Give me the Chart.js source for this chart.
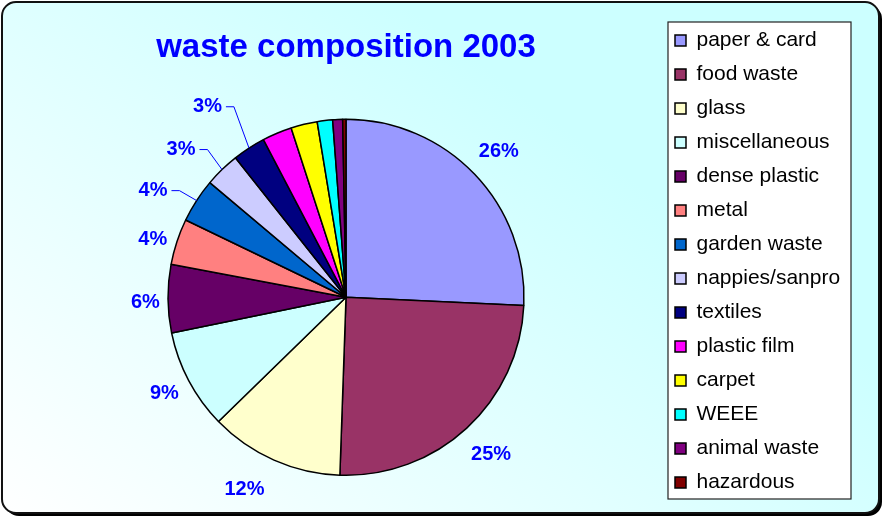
<!DOCTYPE html>
<html>
<head>
<meta charset="utf-8">
<script src="https://cdn.jsdelivr.net/npm/chart.js@4"></script>
<style>
  html, body { margin: 0; padding: 0; background: #fff; }
  #wrap { width: 884px; height: 518px; }
</style>
</head>
<body>
<div id="wrap"><canvas id="pie-chart" width="884" height="518"></canvas></div>
<script>
// data
const categories = [
  "paper & card", "food waste", "glass", "miscellaneous", "dense plastic",
  "metal", "garden waste", "nappies/sanpro", "textiles", "plastic film",
  "carpet", "WEEE", "animal waste", "hazardous"
];
const shares = [25.8, 24.9, 12.2, 9.1, 6.2, 4.2, 4.0, 3.2, 3.0, 2.7, 2.4, 1.4, 0.9, 0.3];
const sliceColors = [
  "#9999FF", "#993366", "#FFFFCC", "#CCFFFF", "#660066", "#FF8080", "#0066CC",
  "#CCCCFF", "#000080", "#FF00FF", "#FFFF00", "#00FFFF", "#800080", "#800000"
];

// label tweaks (extra distance px / angle nudge deg), only for labelled slices
const labelPush = [0, 3, 9, -2, -4, -5, 13, 14, 29];
const labelNudge = [0, 0, 4, 0, -1, -1.5, -4, -4, -3];

const FONT = "'Liberation Sans', Arial, sans-serif";
const BLUE = "#0000FF";

// frame + legend box behind everything
const framePlugin = {
  id: "frame",
  beforeDraw(chart) {
    const ctx = chart.ctx;
    ctx.save();
    // shadow
    ctx.fillStyle = "#000";
    ctx.beginPath();
    ctx.roundRect(5, 5, 877, 511, 14);
    ctx.fill();
    // panel
    const g = ctx.createLinearGradient(0, 518, 400, 0);
    g.addColorStop(0, "#ffffff");
    g.addColorStop(1, "#ccffff");
    ctx.fillStyle = g;
    ctx.strokeStyle = "#111";
    ctx.lineWidth = 2;
    ctx.beginPath();
    ctx.roundRect(2, 2, 877, 511, 14);
    ctx.fill();
    ctx.stroke();

    // legend box
    const lg = chart.legend;
    const colH = lg.columnSizes[0].height;
    const top = lg.bottom - colH - 8;
    const bottom = lg.bottom - 7;
    ctx.fillStyle = "#fff";
    ctx.strokeStyle = "#222";
    ctx.lineWidth = 1.2;
    ctx.fillRect(lg.left + 6, top, 183, bottom - top);
    ctx.strokeRect(lg.left + 6, top, 183, bottom - top);
    ctx.restore();
  },
};

// percent labels outside the pie
const pctPlugin = {
  id: "pct",
  afterDatasetsDraw(chart) {
    const ctx = chart.ctx;
    const meta = chart.getDatasetMeta(0);
    const total = shares.reduce((a, b) => a + b, 0);
    ctx.save();
    ctx.font = "bold 20px " + FONT;
    ctx.fillStyle = BLUE;
    ctx.strokeStyle = BLUE;
    ctx.lineWidth = 1;
    ctx.textAlign = "center";
    ctx.textBaseline = "middle";
    meta.data.forEach((arc, i) => {
      if (shares[i] < 3) return;
      const txt = Math.round((shares[i] / total) * 100) + "%";
      const mid = (arc.startAngle + arc.endAngle) / 2;
      const a = mid + (labelNudge[i] * Math.PI) / 180;
      const dx = Math.cos(a), dy = Math.sin(a);
      const w = ctx.measureText(txt).width, h = 20;
      const half = (Math.abs(dx) * w) / 2 + (Math.abs(dy) * h) / 2;
      const d = arc.outerRadius + 12 + half + labelPush[i];
      const tx = arc.x + dx * d, ty = arc.y + dy * d;
      ctx.fillText(txt, tx, ty);
      if (shares[i] < 4.1) {
        const right = tx + w / 2;
        ctx.beginPath();
        ctx.moveTo(arc.x + Math.cos(mid) * arc.outerRadius, arc.y + Math.sin(mid) * arc.outerRadius);
        ctx.lineTo(right + 12, ty);
        ctx.lineTo(right + 4, ty);
        ctx.stroke();
      }
    });
    ctx.restore();
  },
};

new Chart(document.getElementById("pie-chart"), {
  type: "pie",
  data: {
    labels: categories,
    datasets: [
      {
        data: shares,
        backgroundColor: sliceColors,
        borderColor: "#000",
        borderWidth: 1.5,
      },
    ],
  },
  options: {
    responsive: false,
    animation: false,
    radius: 178,
    layout: { padding: { left: 30, right: 42, top: 0, bottom: 12 } },
    plugins: {
      title: {
        display: true,
        text: "waste composition 2003",
        color: BLUE,
        fullSize: false,
        font: { family: FONT, size: 33, weight: "bold" },
        padding: { top: 28, bottom: 21 },
      },
      legend: {
        position: "right",
        align: "end",
        maxWidth: 180,
        labels: {
          boxWidth: 11,
          boxHeight: 11,
          padding: 13,
          color: "#000",
          font: { family: FONT, size: 21 },
        },
      },
      tooltip: { enabled: false },
    },
  },
  plugins: [framePlugin, pctPlugin],
});
</script>
</body>
</html>
